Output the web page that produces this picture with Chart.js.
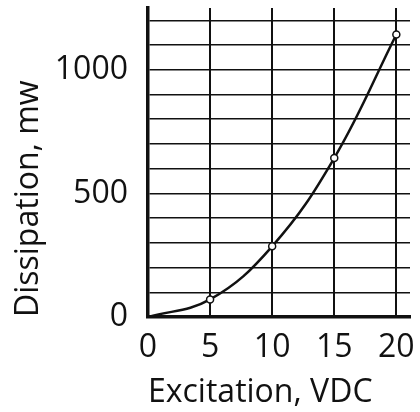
<!DOCTYPE html>
<html>
<head>
<meta charset="utf-8">
<script src="https://cdn.jsdelivr.net/npm/chart.js@4/dist/chart.umd.min.js"></script>
<style>
  html, body { margin: 0; padding: 0; background: #fff; }
  #wrap { width: 420px; height: 412px; }
</style>
</head>
<body>
<div id="wrap"><canvas id="chart"></canvas></div>
<script>
// Excitation (VDC) vs dissipation (mW)
const excitation = [0, 5, 10, 15, 20];
const dissipation = [0, 71, 286, 643, 1143];
const markerRadius = [0, 3.5, 3.5, 3.5, 3.5];

// tick / grid positions
const xTicks = [0, 5, 10, 15, 20];
const yTicks = [0, 100, 200, 300, 400, 500, 600, 700, 800, 900, 1000, 1100, 1200];
const yLabelled = [0, 500, 1000];

const xTitle = 'Excitation, VDC';
const yTitle = 'Dissipation, mw';

const ink = '#111';
const font = { family: '"Open Sans", sans-serif', size: 32 };

let points = excitation.map((x, i) => ({ x: x, y: dissipation[i] }));

new Chart(document.getElementById('chart'), {
    type: 'line',
    data: {
        datasets: [{
            data: points,
            borderColor: ink,
            borderWidth: 2.5,
            backgroundColor: '#fff',
            pointBorderColor: ink,
            pointBorderWidth: 1.5,
            pointRadius: markerRadius,
            tension: 0.4,
            fill: false
        }]
    },
    options: {
        responsive: true,
        maintainAspectRatio: false,
        animation: false,
        layout: { padding: { top: 8, right: 10, left: 0, bottom: 0 } },
        plugins: {
            legend: { display: false },
            tooltip: { enabled: false }
        },
        scales: {
            x: {
                type: 'linear',
                min: 0,
                max: 21.1,
                afterBuildTicks: s => { s.ticks = xTicks.map(v => ({ value: v })); },
                afterFit: s => { s.height = 95; s.paddingLeft = 0; s.paddingRight = 0; },
                ticks: { color: ink, font: font, padding: 12, maxRotation: 0, autoSkip: false },
                grid: { color: ink, lineWidth: 2, drawTicks: false },
                border: { color: ink, width: 3.5 },
                title: {
                    display: true,
                    text: xTitle,
                    color: ink,
                    font: font,
                    align: 'start',
                    padding: { top: 0, bottom: 0 }
                }
            },
            y: {
                min: 0,
                max: 1250,
                afterBuildTicks: s => { s.ticks = yTicks.map(v => ({ value: v })); },
                afterFit: s => { s.width = 148; s.paddingTop = 0; s.paddingBottom = 0; },
                ticks: {
                    color: ink,
                    font: font,
                    padding: 20,
                    autoSkip: false,
                    callback: v => (yLabelled.includes(v) ? String(v) : '')
                },
                grid: { color: ink, lineWidth: 1.5, drawTicks: false },
                border: { color: ink, width: 3.5 },
                title: {
                    display: true,
                    text: yTitle,
                    color: ink,
                    font: font,
                    align: 'start',
                    padding: { top: 10, bottom: 0 }
                }
            }
        }
    }
});
</script>
</body>
</html>
